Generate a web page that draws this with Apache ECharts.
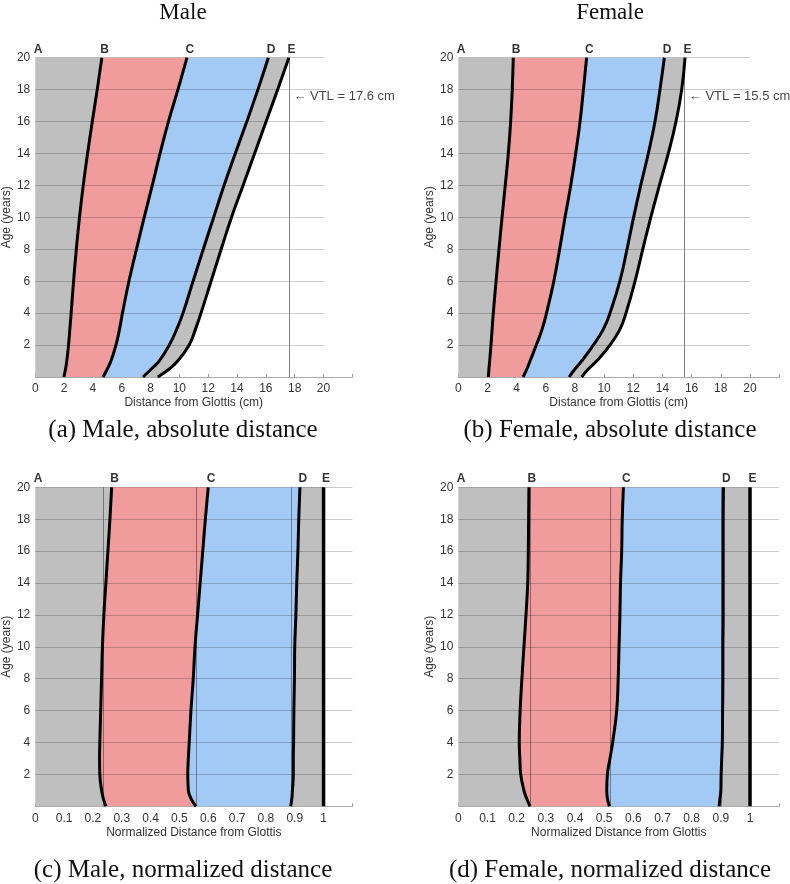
<!DOCTYPE html>
<html><head><meta charset="utf-8">
<script src="https://cdn.jsdelivr.net/npm/echarts@6/dist/echarts.min.js"></script>
<style>html,body{margin:0;padding:0;background:#fff}#c{width:790px;height:884px}</style>
</head><body><div id="c"></div>
<script>
// ---- data ----
const ages = [0, 0.5, 1, 2, 3, 4, 6, 8, 10, 12, 14, 16, 18, 20];
const yTicks = [2, 4, 6, 8, 10, 12, 14, 16, 18, 20];

// (a) male, absolute distance (cm)
const maleAbsB = [1.99, 2.10, 2.19, 2.31, 2.40, 2.49, 2.66, 2.85, 3.07, 3.33, 3.63, 3.96, 4.30, 4.62];
const maleAbsC = [4.70, 5.00, 5.25, 5.60, 5.85, 6.05, 6.50, 7.02, 7.56, 8.12, 8.66, 9.24, 9.90, 10.53];
const maleAbsD = [7.48, 8.05, 8.60, 9.30, 9.82, 10.25, 10.95, 11.66, 12.38, 13.10, 13.88, 14.68, 15.45, 16.17];
const maleAbsE = [8.50, 9.30, 9.88, 10.68, 11.12, 11.50, 12.20, 12.90, 13.62, 14.42, 15.22, 16.02, 16.82, 17.60];
const maleVTL = 17.6;

// (b) female, absolute distance (cm)
const femAbsB = [2.06, 2.10, 2.15, 2.24, 2.32, 2.40, 2.59, 2.79, 3.00, 3.22, 3.43, 3.59, 3.70, 3.77];
const femAbsC = [4.45, 4.70, 4.92, 5.35, 5.75, 6.05, 6.55, 6.95, 7.32, 7.71, 8.05, 8.35, 8.58, 8.80];
const femAbsD = [7.60, 8.00, 8.46, 9.26, 9.95, 10.40, 11.08, 11.57, 12.02, 12.51, 13.03, 13.49, 13.83, 14.13];
const femAbsE = [8.46, 8.92, 9.49, 10.40, 11.09, 11.50, 12.12, 12.65, 13.20, 13.79, 14.40, 14.93, 15.32, 15.55];
const femVTL = 15.5;

// (c) male, normalized distance
const maleNormB = [0.245, 0.236, 0.230, 0.224, 0.223, 0.224, 0.227, 0.230, 0.233, 0.238, 0.245, 0.252, 0.259, 0.265];
const maleNormC = [0.557, 0.540, 0.531, 0.529, 0.531, 0.534, 0.540, 0.548, 0.554, 0.563, 0.572, 0.581, 0.590, 0.600];
const maleNormD = [0.886, 0.890, 0.892, 0.895, 0.895, 0.896, 0.897, 0.899, 0.900, 0.904, 0.907, 0.911, 0.914, 0.918];
const maleNormE = [1, 1, 1, 1, 1, 1, 1, 1, 1, 1, 1, 1, 1, 1];
const maleNormRef = [0.237, 0.560, 0.888];

// (d) female, normalized distance
const femNormB = [0.246, 0.234, 0.225, 0.214, 0.211, 0.209, 0.212, 0.218, 0.225, 0.232, 0.238, 0.240, 0.241, 0.242];
const femNormC = [0.518, 0.511, 0.509, 0.511, 0.520, 0.529, 0.543, 0.548, 0.551, 0.554, 0.556, 0.560, 0.562, 0.566];
const femNormD = [0.894, 0.897, 0.900, 0.901, 0.903, 0.905, 0.906, 0.907, 0.907, 0.908, 0.908, 0.908, 0.908, 0.909];
const femNormE = [1, 1, 1, 1, 1, 1, 1, 1, 1, 1, 1, 1, 1, 1];
const femNormRef = [0.247, 0.522, 0.900];

const curveLetters = ['A', 'B', 'C', 'D', 'E'];

// ---- styling ----
const SANS = '"Liberation Sans", Arial, Helvetica, sans-serif';
const SERIF = '"Liberation Serif", "Times New Roman", serif';
const fillColors = ['#bfbfbf', '#f09c9c', '#a3c9f5', '#bfbfbf'];

const panels = [
  {grid: {left: 33.3, top: 57.7, width: 319, height: 319.3}, curves: [maleAbsB, maleAbsC, maleAbsD, maleAbsE],
   xMax: 22, gridEnd: 20, interval: 2, name: 'Distance from Glottis (cm)', vtl: maleVTL, refs: []},
  {grid: {left: 458.3, top: 57.7, width: 320.8, height: 319.3}, curves: [femAbsB, femAbsC, femAbsD, femAbsE],
   xMax: 22, gridEnd: 20, interval: 2, name: 'Distance from Glottis (cm)', vtl: femVTL, refs: []},
  {grid: {left: 32, top: 487.3, width: 320.4, height: 319}, curves: [maleNormB, maleNormC, maleNormD, maleNormE],
   xMax: 1.1, gridEnd: 1.1, interval: 0.1, name: 'Normalized Distance from Glottis', vtl: null, refs: maleNormRef},
  {grid: {left: 458.3, top: 487.3, width: 320.9, height: 319}, curves: [femNormB, femNormC, femNormD, femNormE],
   xMax: 1.1, gridEnd: 1.1, interval: 0.1, name: 'Normalized Distance from Glottis', vtl: null, refs: femNormRef},
];

const grid = [], xAxis = [], yAxis = [], series = [];
const zeros = ages.map(() => 0);

panels.forEach((p, i) => {
  grid.push(Object.assign({containLabel: false}, p.grid));
  const absolute = p.xMax > 2;
  xAxis.push({
    gridIndex: i, type: 'value', min: 0, max: p.xMax, interval: p.interval,
    axisLine: {show: true, lineStyle: {color: '#a8a8a8', width: 1}},
    axisTick: {show: true, inside: true, length: 3, lineStyle: {color: '#999'}},
    splitLine: {show: false},
    axisLabel: {
      color: '#333', fontSize: 12, fontFamily: SANS, margin: 6,
      formatter: v => absolute ? (v > 20.5 ? '' : String(Math.round(v))) : (v > 1.05 ? '' : String(+v.toFixed(1)))
    },
    name: p.name, nameLocation: 'middle', nameGap: 20,
    nameTextStyle: {color: '#333', fontSize: 12, fontFamily: SANS}
  });
  yAxis.push({
    gridIndex: i, type: 'value', min: 0, max: 20, interval: 2,
    axisLine: {show: false}, axisTick: {show: false}, splitLine: {show: false},
    axisLabel: {color: '#333', fontSize: 12, fontFamily: SANS, margin: 5, formatter: v => v === 0 ? '' : String(v)},
    name: 'Age (years)', nameLocation: 'middle', nameGap: 20,
    nameTextStyle: {color: '#333', fontSize: 12, fontFamily: SANS}
  });

  // filled regions
  const bounds = [[zeros, p.curves[0]], [p.curves[0], p.curves[1]], [p.curves[1], p.curves[2]], [p.curves[2], p.curves[3]]];
  series.push({
    type: 'custom', xAxisIndex: i, yAxisIndex: i, z: 1, silent: true,
    data: [[0, 0], [0, 0], [0, 0], [0, 0]],
    renderItem: function (params, api) {
      const k = params.dataIndex;
      const L = bounds[k][0], R = bounds[k][1];
      const pts = [];
      for (let j = 0; j < ages.length; j++) pts.push(api.coord([L[j], ages[j]]));
      for (let j = ages.length - 1; j >= 0; j--) pts.push(api.coord([R[j], ages[j]]));
      return {type: 'polygon', shape: {points: pts}, style: {fill: fillColors[k], stroke: null}};
    }
  });

  // grid lines, reference lines, VTL line
  const ml = yTicks.map(y => [{coord: [0, y], lineStyle: {color: 'rgba(0,0,0,0.2)', width: 1, type: 'solid'}},
                              {coord: [p.gridEnd, y]}]);
  p.refs.forEach(r => ml.push([{coord: [r, 0], lineStyle: {color: 'rgba(0,0,0,0.38)', width: 1, type: 'solid'}}, {coord: [r, 20]}]));
  if (p.vtl !== null) ml.push([{coord: [p.vtl, 0], lineStyle: {color: '#808080', width: 1, type: 'solid'}}, {coord: [p.vtl, 20]}]);
  series.push({
    type: 'line', xAxisIndex: i, yAxisIndex: i, z: 3, silent: true,
    data: [[0, 0]], showSymbol: false, symbol: 'none', lineStyle: {opacity: 0},
    markLine: {silent: true, symbol: ['none', 'none'], label: {show: false}, animation: false, data: ml}
  });

  // boundary curves
  p.curves.forEach((vals, k) => {
    series.push({
      type: 'line', xAxisIndex: i, yAxisIndex: i, z: 5, silent: true,
      data: ages.map((a, j) => [vals[j], a]),
      showSymbol: false, symbol: 'none', smooth: 0.45,
      lineStyle: {color: '#000', width: k === 3 && !absolute ? 3.5 : 3}
    });
  });

  // letters above the plot
  const letterData = [[0, 20, 'A']].concat(p.curves.map((vals, k) => [vals[vals.length - 1], 20, curveLetters[k + 1]]));
  series.push({
    type: 'scatter', xAxisIndex: i, yAxisIndex: i, z: 6, silent: true, clip: false,
    symbolSize: 1, itemStyle: {color: 'transparent'},
    data: letterData,
    label: {show: true, formatter: q => q.data[2], position: [-1, -2], align: 'left', verticalAlign: 'bottom',
            fontSize: 12, fontWeight: 'bold', color: '#000', fontFamily: SANS}
  });
  if (p.vtl !== null) {
    series.push({
      type: 'scatter', xAxisIndex: i, yAxisIndex: i, z: 6, silent: true, clip: false,
      symbolSize: 1, itemStyle: {color: 'transparent'},
      data: [[p.vtl, 17.6, '\u2190 VTL = ' + p.vtl.toFixed(1) + ' cm']],
      label: {show: true, formatter: q => q.data[2], position: 'right', distance: 4,
              fontSize: 13, color: '#111', fontFamily: SANS}
    });
  }
});

function txt(t, x, y, size) {
  return {type: 'text', x: x, y: y, silent: true, z: 10,
    style: {text: t, font: size + 'px ' + SERIF, fill: '#111', align: 'center', verticalAlign: 'middle',
            textAlign: 'center', textVerticalAlign: 'middle'}};
}

const chart = echarts.init(document.getElementById('c'));
chart.setOption({
  animation: false,
  backgroundColor: '#fff',
  grid: grid, xAxis: xAxis, yAxis: yAxis, series: series,
  graphic: [
    txt('Male', 183, 13, 23),
    txt('Female', 610, 13, 23),
    txt('(a) Male, absolute distance', 183, 430, 25),
    txt('(b) Female, absolute distance', 610, 430, 25),
    txt('(c) Male, normalized distance', 183, 870, 25),
    txt('(d) Female, normalized distance', 610, 870, 25)
  ]
});
</script>
</body></html>
